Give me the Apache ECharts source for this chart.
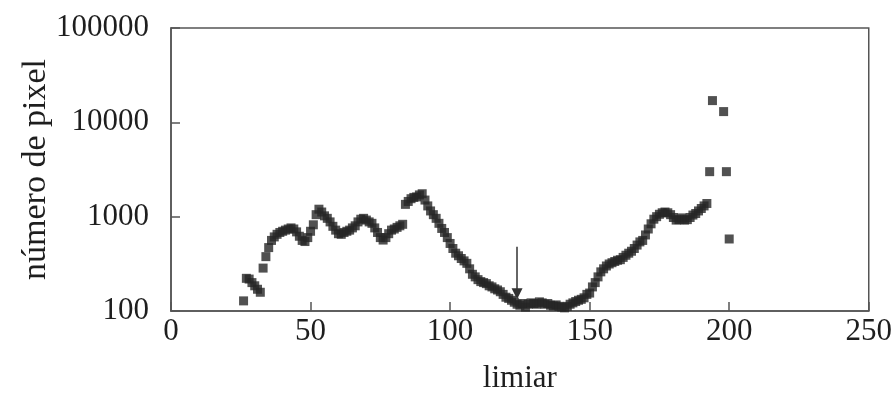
<!DOCTYPE html>
<html>
<head>
<meta charset="utf-8">
<script src="https://cdn.jsdelivr.net/npm/echarts@6/dist/echarts.min.js"></script>
<style>html,body{margin:0;padding:0;background:#fff}#c{width:895px;height:403px}</style>
</head>
<body>
<div id="c"></div>
<script>
// threshold values (limiar)
const limiar = [26,27,28,29,30,31,32,33,34,35,36,37,38,39,40,41,42,43,44,45,46,47,48,49,50,
  51,52,53,54,55,56,57,58,59,60,61,62,63,64,65,66,67,68,69,70,71,72,73,74,75,76,77,78,79,80,
  81,82,83,84,85,86,87,88,89,90,91,92,93,94,95,96,97,98,99,100,101,102,103,104,105,106,107,108,109,110,
  111,112,113,114,115,116,117,118,119,120,121,122,123,124,125,126,127,128,129,130,131,132,133,134,135,136,137,138,139,140,
  141,142,143,144,145,146,147,148,149,150,151,152,153,154,155,156,157,158,159,160,161,162,163,164,165,166,167,168,169,170,
  171,172,173,174,175,176,177,178,179,180,181,182,183,184,185,186,187,188,189,190,191,192,193,194,198,199,200];
// pixel counts (número de pixel)
const pixelCount = [128,222,218,200,185,170,158,285,377,470,560,610,650,680,700,720,740,760,740,690,620,560,545,600,700,
  820,1050,1200,1120,1020,960,880,790,720,660,650,680,700,720,760,800,880,940,960,920,880,850,760,680,600,565,600,660,720,740,
  770,800,830,1350,1450,1550,1600,1620,1700,1750,1500,1300,1150,1050,960,850,750,680,600,520,460,410,385,360,340,320,280,245,230,215,
  205,200,195,185,180,172,167,160,150,140,136,130,124,118,115,120,110,118,122,120,118,125,122,118,120,115,113,116,112,110,
  108,112,118,122,126,130,133,138,150,155,180,200,230,260,280,300,315,325,335,345,350,370,390,410,430,460,500,540,560,640,
  740,840,940,1000,1060,1100,1120,1100,1050,980,920,930,970,920,930,980,1040,1080,1150,1220,1300,1380,3000,17000,13000,3000,580];
// arrow marking the chosen threshold: [x, from value, to value]
const arrowMark = [124, 480, 152];
const xTicks = [0, 50, 100, 150, 200, 250];
const yTicks = [100, 1000, 10000, 100000];

const points = limiar.map((x, i) => [x, pixelCount[i]]);
const font = '"Liberation Serif", "Times New Roman", Times, serif';
const chart = echarts.init(document.getElementById('c'), null, {renderer: 'canvas'});
chart.setOption({
  animation: false,
  backgroundColor: '#fff',
  grid: {left: 171, right: 26, top: 28, bottom: 92, show: true, borderColor: '#555', borderWidth: 1.5},
  xAxis: {
    type: 'value', min: xTicks[0], max: xTicks[xTicks.length - 1], interval: 50,
    name: 'limiar', nameLocation: 'middle', nameGap: 52, nameMoveOverlap: false,
    nameTextStyle: {fontFamily: font, fontSize: 31, color: '#1e1e1e'},
    axisLine: {lineStyle: {color: '#555', width: 1.5}},
    axisTick: {inside: true, length: 9, lineStyle: {color: '#555', width: 1.5}},
    axisLabel: {fontFamily: font, fontSize: 31, color: '#1e1e1e', margin: 5},
    splitLine: {show: false}
  },
  yAxis: {
    type: 'log', logBase: 10, min: yTicks[0], max: yTicks[yTicks.length - 1],
    name: 'número de pixel', nameLocation: 'middle', nameGap: 118, nameRotate: 90, nameMoveOverlap: false,
    nameTextStyle: {fontFamily: font, fontSize: 34, color: '#1e1e1e'},
    axisLine: {lineStyle: {color: '#555', width: 1.5}},
    axisTick: {inside: true, length: 9, lineStyle: {color: '#555', width: 1.5}},
    axisLabel: {fontFamily: font, fontSize: 31, color: '#1e1e1e', margin: 22,
      formatter: v => String(Math.round(v))},
    splitLine: {show: false}
  },
  series: [{
    type: 'scatter',
    data: points,
    symbol: 'rect',
    symbolSize: 9,
    itemStyle: {color: '#262626'},
    markLine: {
      silent: true,
      symbol: ['none', 'triangle'],
      symbolSize: [11, 11],
      label: {show: false},
      lineStyle: {color: '#333', width: 1.5, type: 'solid'},
      data: [[{coord: [arrowMark[0], arrowMark[1]]}, {coord: [arrowMark[0], arrowMark[2]]}]]
    }
  }]
});
</script>
</body>
</html>
